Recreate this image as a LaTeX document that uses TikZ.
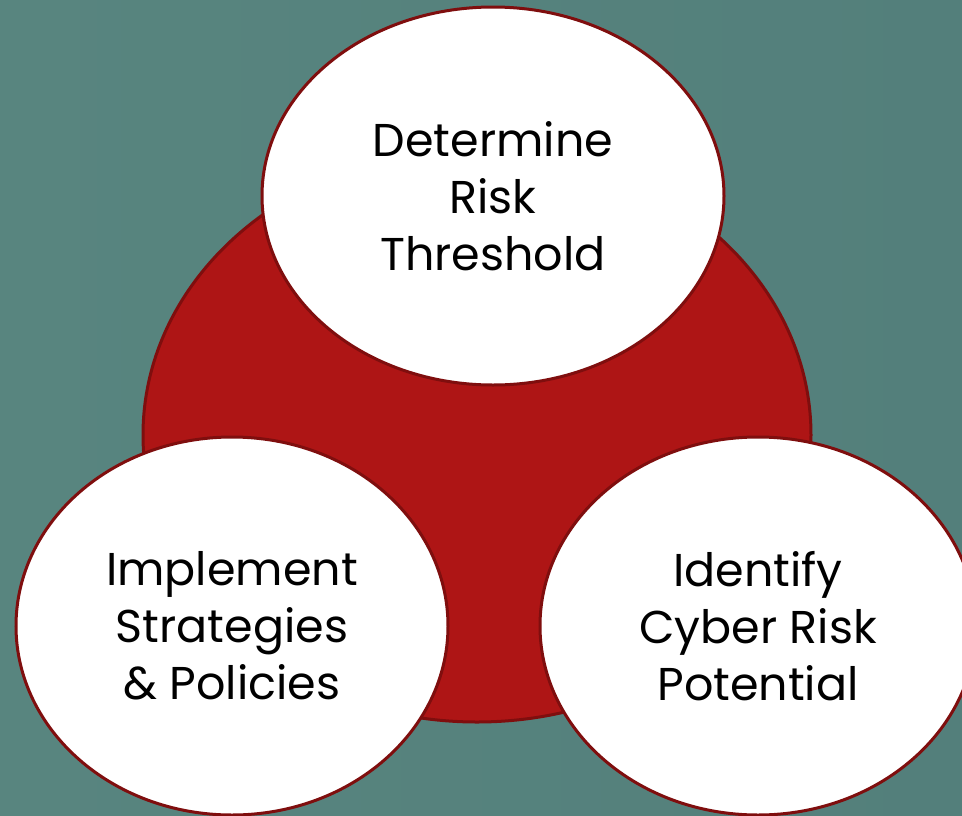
\documentclass[tikz,border=0pt]{standalone}
\usepackage{fontspec}
\setmainfont{Poppins}
\usetikzlibrary{shapes}
\usetikzlibrary{positioning}
\definecolor{bgteal}{HTML}{5E8C88}
\definecolor{bgtealL}{HTML}{58857F}
\definecolor{bgtealR}{HTML}{537F7B}
\definecolor{riskred}{HTML}{AE1515}
\definecolor{riskline}{HTML}{7F0E0E}
\tikzset{
    backdrop/.style = {left color=bgtealL, middle color=bgteal, right color=bgtealR},
    bigoval/.style = {ellipse, line width=3pt, draw=riskline, fill=riskred, inner sep=0pt, minimum width=668pt, minimum height=574pt},
    stageoval/.style = {ellipse, line width=3pt, draw=riskline, fill=white, inner sep=0pt, align=center, font=\fontsize{46}{57}\selectfont},
}

\begin{document}
\begin{tikzpicture}[x=1pt,y=-1pt]
\useasboundingbox (0,0) rectangle (962,815);
\clip (0,0) rectangle (962,815);
\fill[backdrop] (0,0) rectangle (962,815);
%
\node[bigoval] at (477, 435) (core) {};
\node[stageoval, minimum width=462pt, minimum height=378pt] at (493, 196) (threshold) {Determine\\Risk\\Threshold};
\node[stageoval, minimum width=432pt, minimum height=378pt] at (232, 626) (policies) {Implement\\Strategies\\\& Policies};
\node[stageoval, minimum width=436pt, minimum height=378pt] at (758, 626) (potential) {Identify\\Cyber Risk\\Potential};
\end{tikzpicture}
\end{document}
